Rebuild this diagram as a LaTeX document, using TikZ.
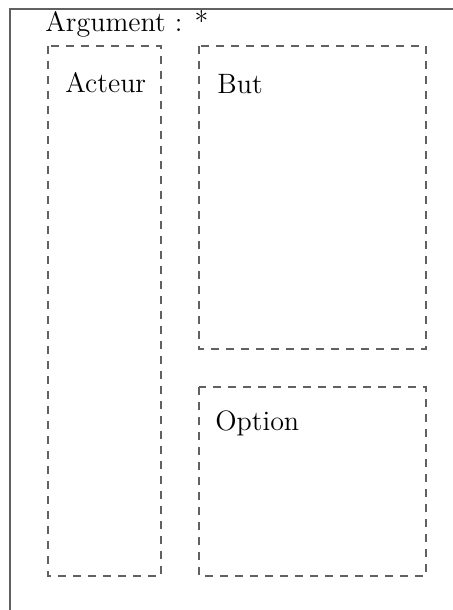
\documentclass[tikz,border=0pt]{standalone}
\usepackage{xcolor}
\usepackage{tikz}
\usetikzlibrary{positioning}
\definecolor{framegray}{gray}{0.38}
\begin{document}
\begin{tikzpicture}[x=0.5pt,y=-0.5pt,
    zone/.style={draw=framegray, line width=0.65pt, dash pattern=on 4pt off 3.5pt},
    zonetext/.style={anchor=base west, inner sep=0pt, font=\fontsize{14}{17}\selectfont}]
                % page and clipping
                \useasboundingbox (0,0) rectangle (453,610);
                \clip (0,0) rectangle (453,610);
                \draw[framegray, line width=0.8pt] (10,9) rectangle (480,640);
                \node[zonetext] (argument) at (45,32) {Argument : *};
                % dashed zones
                \draw[zone] (48,46) coordinate (acteurNW) rectangle (161,576) coordinate (acteurSE);
                \draw[zone] (199,46) coordinate (butNW) rectangle (426,349) coordinate (butSE);
                \draw[zone] (199,387) coordinate (optionNW) rectangle (426,576) coordinate (optionSE);
                \node[zonetext] (acteur) at (65,93) {Acteur};
                \node[zonetext] (but) at (217,94) {But};
                \node[zonetext] (option) at (215,430) {Option};
            \end{tikzpicture}
\end{document}
